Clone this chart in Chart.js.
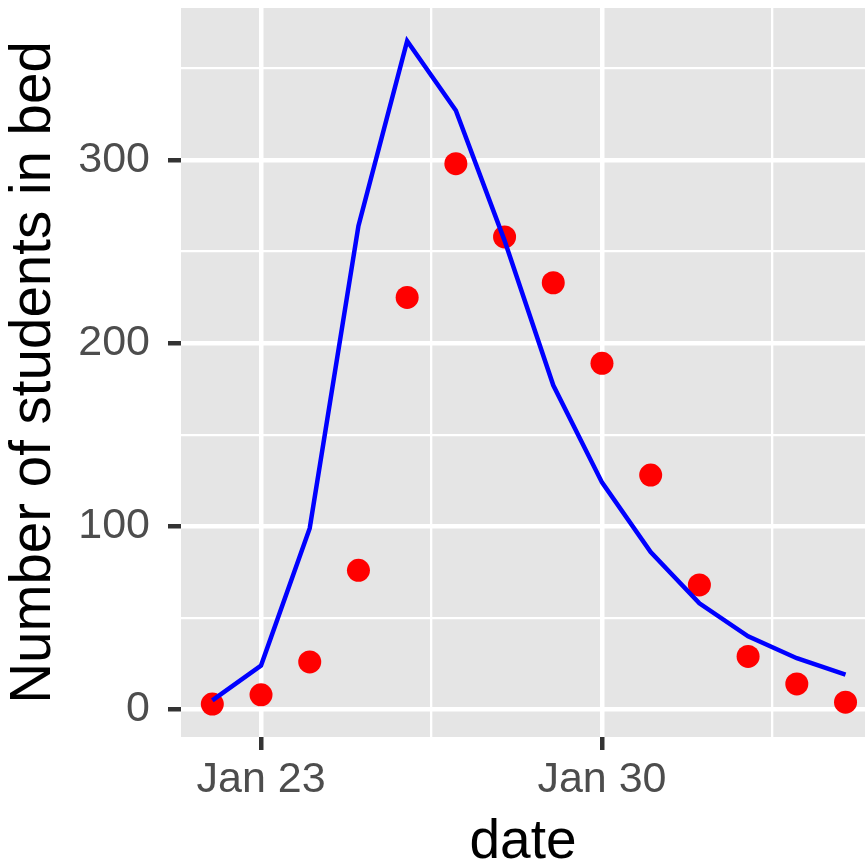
<!DOCTYPE html>
<html lang="en">
<head>
  <meta charset="UTF-8">
  <title>Students in bed</title>
  <script src="https://cdn.jsdelivr.net/npm/chart.js"></script>
  <style>
    html, body { margin: 0; padding: 0; background: #fff; }
    canvas { display: block; }
  </style>
</head>
<body>
  <canvas id="grafico" width="867" height="863"></canvas>
  <script>
    // dias (Jan 22 = 0)
    const datas = ["Jan 22", "Jan 23", "Jan 24", "Jan 25", "Jan 26", "Jan 27", "Jan 28",
                   "Jan 29", "Jan 30", "Jan 31", "Feb 1", "Feb 2", "Feb 3", "Feb 4"];
    const diaIdx = [0, 1, 2, 3, 4, 5, 6, 7, 8, 9, 10, 11, 12, 13];
    const observados = [3, 8, 26, 76, 225, 298, 258, 233, 189, 128, 68, 29, 14, 4];
    const modelo = [5, 24, 99, 264, 365, 327, 256, 177, 124, 86, 58, 40, 28, 19];

    const xTicks = [1, 8];
    const xTickLabels = ["Jan 23", "Jan 30"];
    const xMinor = [4.5, 11.5];
    const yTicks = [0, 100, 200, 300];
    const yMinor = [50, 150, 250, 350];

    const pontos = diaIdx.map((d, i) => ({ x: d, y: observados[i] }));
    const curva = diaIdx.map((d, i) => ({ x: d, y: modelo[i] }));

    const fundoPainel = {
      id: "fundoPainel",
      beforeDraw(chart) {
        const { ctx, chartArea: a } = chart;
        ctx.save();
        ctx.fillStyle = "#e5e5e5";
        ctx.fillRect(a.left, a.top, a.right - a.left, a.bottom - a.top);
        ctx.restore();
      }
    };

    const ehMaiorX = v => xTicks.includes(v);
    const ehMaiorY = v => yTicks.includes(v);

    new Chart(document.getElementById("grafico"), {
      type: "scatter",
      data: {
        datasets: [
          {
            label: "modelo",
            data: curva,
            showLine: true,
            borderColor: "#0000ff",
            borderWidth: 4.5,
            pointRadius: 0,
            tension: 0,
            fill: false,
            order: 0
          },
          {
            label: "observados",
            data: pontos,
            showLine: false,
            backgroundColor: "#ff0000",
            borderWidth: 0,
            pointRadius: 11.5,
            order: 1
          }
        ]
      },
      options: {
        responsive: false,
        animation: false,
        layout: { autoPadding: false, padding: { top: 8, right: 2, left: 0, bottom: 0 } },
        plugins: {
          legend: { display: false },
          tooltip: { enabled: false }
        },
        scales: {
          x: {
            type: "linear",
            min: -0.643,
            max: 13.4,
            afterBuildTicks: s => {
              s.ticks = [...xTicks, ...xMinor].sort((a, b) => a - b).map(v => ({ value: v }));
            },
            afterFit: s => {
              s.height = 126;
              s.paddingLeft = 0; s.paddingRight = 0;
              s.paddingTop = 0; s.paddingBottom = 0;
            },
            border: { display: false },
            grid: {
              color: "#ffffff",
              lineWidth: c => ehMaiorX(c.tick.value) ? 4.5 : 2.3,
              tickColor: c => ehMaiorX(c.tick.value) ? "#333333" : "rgba(0,0,0,0)",
              tickWidth: 4.5,
              tickLength: 13
            },
            ticks: {
              autoSkip: false,
              maxRotation: 0,
              padding: 4,
              color: "#4d4d4d",
              font: { family: "'Liberation Sans', Arial, sans-serif", size: 43 },
              callback: v => {
                const i = xTicks.indexOf(v);
                return i >= 0 ? xTickLabels[i] : "";
              }
            },
            title: {
              display: true,
              text: "date",
              color: "#000000",
              padding: { top: 0, bottom: 0 },
              font: { family: "'Liberation Sans', Arial, sans-serif", size: 55, lineHeight: 0.73 }
            }
          },
          y: {
            type: "linear",
            min: -15,
            max: 383,
            afterBuildTicks: s => {
              s.ticks = [...yTicks, ...yMinor].sort((a, b) => a - b).map(v => ({ value: v }));
            },
            afterFit: s => {
              s.width = 181;
              s.paddingLeft = 0; s.paddingRight = 0;
              s.paddingTop = 0; s.paddingBottom = 0;
            },
            border: { display: false },
            grid: {
              color: "#ffffff",
              lineWidth: c => ehMaiorY(c.tick.value) ? 4.5 : 2.3,
              tickColor: c => ehMaiorY(c.tick.value) ? "#333333" : "rgba(0,0,0,0)",
              tickWidth: 4.5,
              tickLength: 13
            },
            ticks: {
              autoSkip: false,
              padding: 18,
              color: "#4d4d4d",
              font: { family: "'Liberation Sans', Arial, sans-serif", size: 43 },
              callback: v => ehMaiorY(v) ? String(v) : ""
            },
            title: {
              display: true,
              text: "Number of students in bed",
              color: "#000000",
              padding: { top: 1, bottom: 0 },
              font: { family: "'Liberation Sans', Arial, sans-serif", size: 56.5 }
            }
          }
        }
      },
      plugins: [fundoPainel]
    });
  </script>
</body>
</html>
